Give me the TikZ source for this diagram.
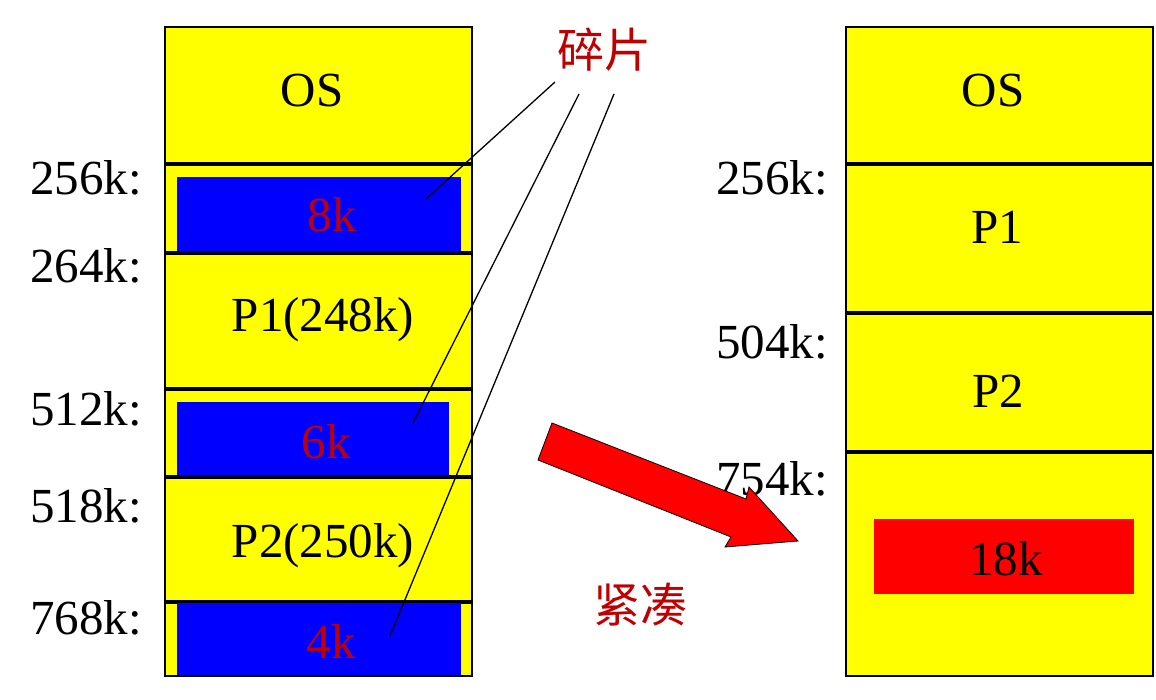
\documentclass[tikz,border=0pt]{standalone}
\usepackage{fontspec}
\setmainfont{Liberation Serif}
\newfontfamily\cjk{Noto Sans CJK SC}
\definecolor{memyellow}{RGB}{255,255,0}
\definecolor{fragblue}{RGB}{0,0,255}
\definecolor{darkred}{RGB}{192,0,0}
\definecolor{pure red}{RGB}{255,0,0}
\begin{document}
\begin{tikzpicture}[x=1pt,y=-1pt,
  column/.style={draw=black,line width=1.3pt,fill=memyellow},
  divider/.style={line width=4pt},
  frag/.style={fill=fragblue},
  big/.style={font=\fontsize{49}{55}\selectfont,inner sep=0pt},
  addr/.style={big,anchor=base east},
  inlabel/.style={big,anchor=base},
  fraglabel/.style={big,anchor=base,text=darkred},
  cjklabel/.style={font=\cjk\fontsize{47}{52}\selectfont,text=darkred,inner sep=0pt},
  pointer/.style={line width=1.3pt},
  bigarrow/.style={draw=black,line width=0.8pt,fill=pure red,line join=miter}
]
\useasboundingbox (0,0) rectangle (1156,700);
% ---------- left memory column ----------
\node[column,anchor=north west,minimum width=307pt,minimum height=649pt,inner sep=0pt] (lcol) at (165,27) {};
\node[frag,anchor=north west,minimum width=284pt,minimum height=74pt,inner sep=0pt] (b8) at (177,177) {};
\node[frag,anchor=north west,minimum width=272pt,minimum height=75pt,inner sep=0pt] (b6) at (177,402) {};
\draw[divider] (165,164) -- (472,164);
\draw[divider] (165,253) -- (472,253);
\draw[divider] (165,389) -- (472,389);
\draw[divider] (165,477) -- (472,477);
\draw[divider] (165,602) -- (472,602);
\node[frag,anchor=north west,minimum width=284pt,minimum height=74pt,inner sep=0pt] (b4) at (177,603) {};
\draw[black,line width=1.3pt] (165,27) rectangle (472,676);
% texts
\node[inlabel] (los) at (312,107) {OS};
\node[fraglabel] (t8) at (332,232) {8k};
\node[inlabel] (lp1) at (323,332) {P1(248k)};
\node[fraglabel] (t6) at (326,458) {6k};
\node[inlabel] (lp2) at (323,557) {P2(250k)};
\node[fraglabel] (t4) at (331,658) {4k};
% addresses
\node[addr] (a256) at (142,195) {256k:};
\node[addr] (a264) at (142,283) {264k:};
\node[addr] (a512) at (142,425) {512k:};
\node[addr] (a518) at (142,522) {518k:};
\node[addr] (a768) at (142,634) {768k:};
% ---------- right memory column ----------
\node[column,anchor=north west,minimum width=307pt,minimum height=649pt,inner sep=0pt] (rcol) at (846,27) {};
\node[fill=pure red,anchor=north west,minimum width=260pt,minimum height=75pt,inner sep=0pt] (b18) at (874,519) {};
\draw[divider] (846,164) -- (1153,164);
\draw[divider] (846,313) -- (1153,313);
\draw[divider] (846,452) -- (1153,452);
\draw[black,line width=1.3pt] (846,27) rectangle (1153,676);
\node[inlabel] (ros) at (993,107) {OS};
\node[inlabel] (rp1) at (997,244) {P1};
\node[inlabel] (rp2) at (998,407) {P2};
\node[inlabel] (t18) at (1006,575) {18k};
\node[addr] (r256) at (828,195) {256k:};
\node[addr] (r504) at (828,359) {504k:};
\node[addr] (r754) at (828,495) {754k:};
% ---------- fragments callout ----------
\node[cjklabel] (suipian) at (604,50) {碎片};
\coordinate (s1) at (555,82);
\coordinate (s2) at (579,94);
\coordinate (s3) at (614,94);
\coordinate (e1) at (426,199);
\coordinate (e2) at (413,423);
\coordinate (e3) at (390,636);
\draw[pointer] (s1) -- (e1);
\draw[pointer] (s2) -- (e2);
\draw[pointer] (s3) -- (e3);
% ---------- compaction arrow ----------
\draw[bigarrow] (552,423) -- (746,499) -- (749,487) -- (798,541) -- (725,547) -- (731,537) -- (538,460) -- cycle;
\node[cjklabel] (jincou) at (640,605) {紧凑};
\end{tikzpicture}
\end{document}
